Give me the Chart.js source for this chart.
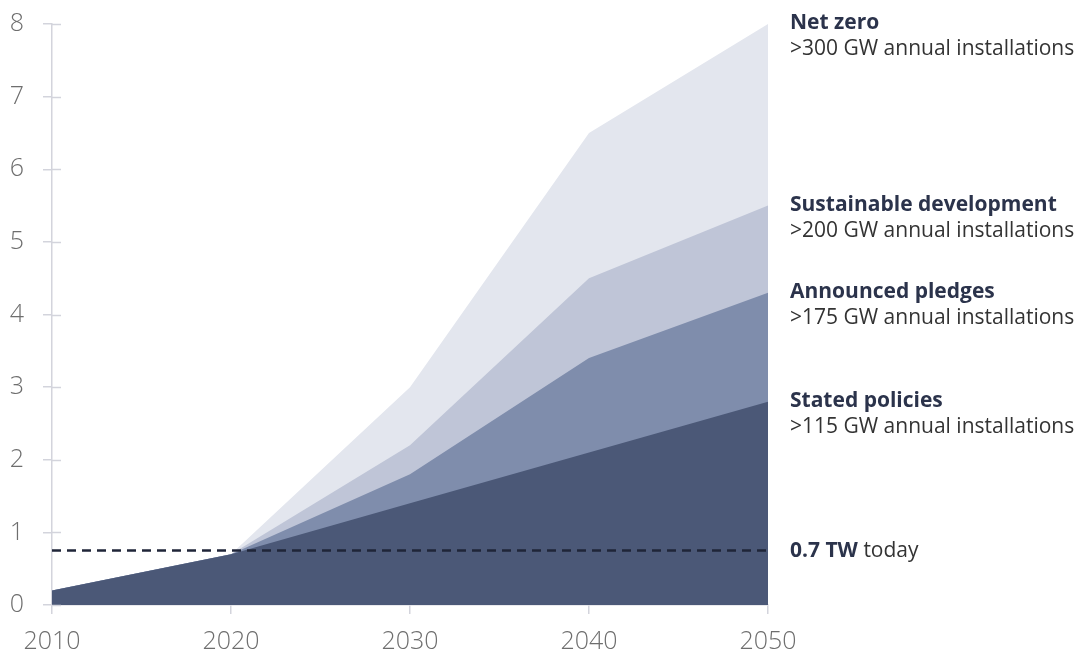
<!DOCTYPE html>
<html>
<head>
<meta charset="utf-8">
<script src="https://cdn.jsdelivr.net/npm/chart.js@4.4.1/dist/chart.umd.min.js"></script>
<style>
    html, body { margin: 0; padding: 0; background: #ffffff; }
    #wrap { width: 1079px; height: 654px; position: relative; }
</style>
</head>
<body>
<div id="wrap"><canvas id="solarChart" width="1079" height="654"></canvas></div>
<script>

// data (TW of installed capacity)
var years = ['2010', '2020', '2030', '2040', '2050'];
var statedPolicies = [0.2, 0.7, 1.4, 2.1, 2.8];
var announcedPledges = [0.2, 0.7, 1.8, 3.4, 4.3];
var sustainableDev = [0.2, 0.7, 2.2, 4.5, 5.5];
var netZero = [0.2, 0.7, 3.0, 6.5, 8.0];
var todayLevel = [0.75, 0.75, 0.75, 0.75, 0.75];
var yTicks = [0, 1, 2, 3, 4, 5, 6, 7, 8];

var scenarioNames = ['Net zero', 'Sustainable development', 'Announced pledges', 'Stated policies'];
var scenarioNotes = ['>300 GW annual installations', '>200 GW annual installations', '>175 GW annual installations', '>115 GW annual installations'];

var FONT = '"Open Sans", "Noto Sans", sans-serif';
var axisColor = '#d3d4dc';

// right side text next to the end of each area
var sideLabels = {
    id: 'sideLabels',
    afterDraw: function (chart) {
        var ctx = chart.ctx;
        var yScale = chart.scales.y;
        var x = chart.chartArea.right + 22;
        var series = [netZero, sustainableDev, announcedPledges, statedPolicies];
        ctx.save();
        ctx.textAlign = 'left';
        ctx.textBaseline = 'alphabetic';
        for (var i = 0; i < series.length; i++) {
            var y = yScale.getPixelForValue(series[i][series[i].length - 1]) + 5;
            ctx.fillStyle = '#2b334b';
            ctx.font = 'bold 21px ' + FONT;
            ctx.fillText(scenarioNames[i], x, y);
            ctx.fillStyle = '#333333';
            ctx.font = '21px ' + FONT;
            ctx.fillText(scenarioNotes[i], x, y + 26);
        }
        // today marker
        var ty = yScale.getPixelForValue(todayLevel[todayLevel.length - 1]) + 6;
        ctx.fillStyle = '#2b334b';
        ctx.font = 'bold 21px ' + FONT;
        ctx.fillText('0.7 TW', x, ty);
        var w = ctx.measureText('0.7 TW ').width;
        ctx.fillStyle = '#333333';
        ctx.font = '21px ' + FONT;
        ctx.fillText('today', x + w, ty);

        // y ticks cross the axis line
        ctx.strokeStyle = axisColor;
        ctx.lineWidth = 1.5;
        var left = chart.chartArea.left;
        yScale.ticks.forEach(function (t) {
            var py = Math.round(yScale.getPixelForValue(t.value)) + 0.5;
            ctx.beginPath();
            ctx.moveTo(left, py);
            ctx.lineTo(left + 9, py);
            ctx.stroke();
        });
        ctx.restore();
    }
};

function area(label, values, color) {
    return {
        label: label,
        data: values,
        backgroundColor: color,
        borderColor: color,
        borderWidth: 0,
        pointRadius: 0,
        tension: 0,
        fill: 'origin'
    };
}

var config = {
    type: 'line',
    data: {
        labels: years,
        datasets: [
            {
                label: 'today',
                data: todayLevel,
                borderColor: '#1f2538',
                borderWidth: 2.5,
                borderDash: [9, 6],
                pointRadius: 0,
                fill: false
            },
            area('Stated policies', statedPolicies, '#4b5877'),
            area('Announced pledges', announcedPledges, '#7f8dac'),
            area('Sustainable development', sustainableDev, '#bfc5d7'),
            area('Net zero', netZero, '#e3e6ee')
        ]
    },
    options: {
        responsive: false,
        animation: false,
        layout: { padding: { top: 24, right: 311, left: 0, bottom: 0 } },
        plugins: {
            legend: { display: false },
            tooltip: { enabled: false }
        },
        scales: {
            x: {
                type: 'category',
                offset: false,
                grid: { display: true, drawOnChartArea: false, drawTicks: true, tickLength: 9, color: axisColor, lineWidth: 1.5 },
                border: { display: true, color: axisColor, width: 1.5 },
                ticks: { color: '#6e6e6e', font: { family: FONT, size: 25, weight: '300' }, padding: 13, maxRotation: 0 },
                afterFit: function (scale) { scale.height = 49; }
            },
            y: {
                min: 0,
                max: 8,
                afterBuildTicks: function (scale) {
                    scale.ticks = yTicks.map(function (v) { return { value: v }; });
                },
                grid: { display: true, drawOnChartArea: false, drawTicks: true, tickLength: 9, color: axisColor, lineWidth: 1.5 },
                border: { display: true, color: axisColor, width: 1.5 },
                ticks: { color: '#6e6e6e', font: { family: FONT, size: 25, weight: '300' }, padding: 19 },
                afterFit: function (scale) {
                    scale.width = 52;
                    scale.paddingTop = 0;
                    scale.paddingBottom = 0;
                }
            }
        }
    },
    plugins: [sideLabels]
};

var ctx = document.getElementById('solarChart').getContext('2d');
var chart = new Chart(ctx, config);

</script>
</body>
</html>
